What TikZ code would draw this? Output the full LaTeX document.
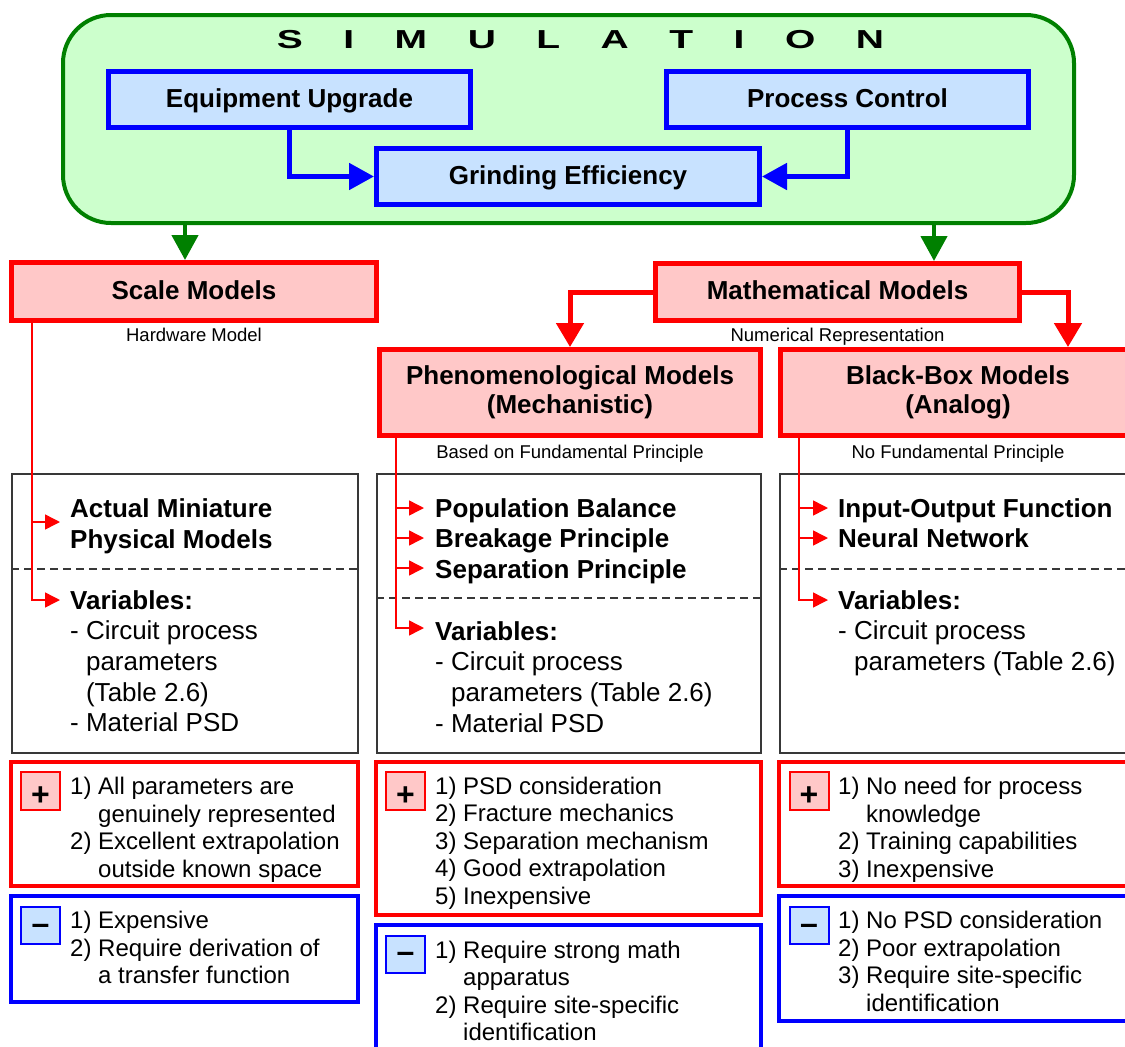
\documentclass[tikz,border=0pt]{standalone}
\usepackage{fontspec}
\usepackage{graphicx}
\setmainfont{Liberation Sans}
\usetikzlibrary{arrows.meta}

\definecolor{simfill}{HTML}{CCFFCC}
\definecolor{simdraw}{HTML}{008000}
\definecolor{bluefill}{HTML}{C8E2FF}
\definecolor{pinkfill}{HTML}{FFC8C8}
\definecolor{boxgray}{HTML}{383838}

\begin{document}
\begin{tikzpicture}[x=1pt,y=-1pt,
  bigfont/.style={font=\fontsize{26}{30.7}\selectfont\bfseries},
  simbox/.style={draw=simdraw, fill=simfill, line width=4pt, rounded corners=48pt, inner sep=0pt},
  titlebox/.style={line width=5pt, inner sep=0pt, align=center, font=\fontsize{26}{29.5}\selectfont\bfseries},
  onerow/.style={text height=18.6pt, text depth=3pt},
  bluebox/.style={titlebox, onerow, draw=blue, fill=bluefill},
  redbox/.style={titlebox, draw=red, fill=pinkfill},
  sublabel/.style={inner sep=0pt, text height=13.3pt, text depth=0pt, font=\fontsize{18.5}{22}\selectfont},
  listbox/.style={draw=boxgray, line width=1.5pt, inner sep=0pt},
  divider/.style={draw=boxgray, line width=1.3pt, dash pattern=on 8pt off 5pt},
  probox/.style={draw=red, line width=4.5pt, inner sep=0pt},
  conbox/.style={draw=blue, line width=4.5pt, inner sep=0pt},
  plusbox/.style={draw=red, fill=pinkfill, line width=2pt, inner sep=0pt, minimum width=39pt, minimum height=38pt,
                  font=\fontsize{32}{32}\selectfont\bfseries, text height=28.4pt, text depth=0pt},
  minusbox/.style={draw=blue, fill=bluefill, line width=2pt, inner sep=0pt, minimum width=39pt, minimum height=37pt,
                  font=\fontsize{32}{32}\selectfont\bfseries, text height=17pt, text depth=0pt},
  bigtext/.style={anchor=north west, inner sep=0pt, align=left, font=\fontsize{26}{30.7}\selectfont},
  smalltext/.style={anchor=north west, inner sep=0pt, align=left, font=\fontsize{24}{27.5}\selectfont},
  bluearrow/.style={draw=blue, line width=5pt, -{Triangle[length=25pt,width=26pt]}},
  greenarrow/.style={draw=simdraw, line width=4.5pt, -{Triangle[length=25pt,width=26pt]}},
  redarrow/.style={draw=red, line width=5pt, -{Triangle[length=24pt,width=27pt]}},
  thinarrow/.style={draw=red, line width=1.5pt, -{Triangle[length=15pt,width=15pt]}},
  thinline/.style={draw=red, line width=1.5pt}
]
\clip (0,0) rectangle (1125,1047);

% ---------- simulation block ----------
\node[simbox, minimum width=1011pt, minimum height=208pt] (sim) at (568.5,119) {};
\node[inner sep=0pt, text height=18.6pt, text depth=0pt, font=\fontsize{26}{30}\selectfont\bfseries] (simtitle) at (580.5,39)
  {\scalebox{1.5}[1]{S\hspace{27pt}I\hspace{27pt}M\hspace{27pt}U\hspace{27pt}L\hspace{27pt}A\hspace{27pt}T\hspace{27pt}I\hspace{27pt}O\hspace{27pt}N}};
\node[bluebox, minimum width=362pt, minimum height=56pt] (equip) at (289.5,99.5) {Equipment Upgrade};
\node[bluebox, minimum width=362pt, minimum height=56pt] (proc) at (847.5,99.5) {Process Control};
\node[bluebox, minimum width=383pt, minimum height=56pt] (grind) at (568,176.5) {Grinding Efficiency};
\draw[bluearrow] (equip.south) |- (grind.west);
\draw[bluearrow] (proc.south) |- (grind.east);

% ---------- model families ----------
\node[redbox, onerow, minimum width=365pt, minimum height=58pt] (scale) at (194,291.5) {Scale Models};
\node[redbox, onerow, minimum width=364pt, minimum height=57pt] (math) at (837.5,292) {Mathematical Models};
\node[redbox, minimum width=381pt, minimum height=86pt] (phen) at (570,392.5) {Phenomenological Models\\(Mechanistic)};
\node[redbox, minimum width=355pt, minimum height=86pt] (bbox) at (958,392.5) {Black-Box Models\\(Analog)};

\coordinate (g1) at (185,0);
\coordinate (g2) at (934,0);
\draw[greenarrow] (g1 |- sim.south) -- (g1 |- scale.north);
\draw[greenarrow] (g2 |- sim.south) -- (g2 |- math.north);
\coordinate (mx) at (1068,0);
\draw[redarrow] (math.west) -| (phen.north);
\draw[redarrow] (math.east) -| (mx |- bbox.north);

\node[sublabel] (hw) at (194,335) {Hardware Model};
\node[sublabel] (nr) at (837.5,334.5) {Numerical Representation};
\node[sublabel] (bf) at (570,451.5) {Based on Fundamental Principle};
\node[sublabel] (nf) at (958,451.5) {No Fundamental Principle};

% ---------- content boxes ----------
\node[listbox, minimum width=346pt, minimum height=279pt] (lbox) at (185,613.5) {};
\node[listbox, minimum width=384pt, minimum height=279pt] (mbox) at (569,613.5) {};
\node[listbox, minimum width=360pt, minimum height=279pt] (rbox) at (960,613.5) {};
\coordinate (dl) at (0,569);
\coordinate (dm) at (0,598);
\draw[divider] (lbox.west |- dl) -- (lbox.east |- dl);
\draw[divider] (mbox.west |- dm) -- (mbox.east |- dm);
\draw[divider] (rbox.west |- dl) -- (rbox.east |- dl);

\node[bigtext, font=\fontsize{26}{30.7}\selectfont\bfseries] (lmain) at (70,496) {\strut Actual Miniature\\Physical Models};
\node[bigtext] (lvar) at (70,587.5) {\strut\textbf{Variables:}\\- Circuit process\\\hphantom{- }parameters\\\hphantom{- }(Table 2.6)\\- Material PSD};
\node[bigtext, font=\fontsize{26}{30.7}\selectfont\bfseries] (mmain) at (435,495.5) {\strut Population Balance\\Breakage Principle\\Separation Principle};
\node[bigtext] (mvar) at (435,618.5) {\strut\textbf{Variables:}\\- Circuit process\\\hphantom{- }parameters (Table 2.6)\\- Material PSD};
\node[bigtext, font=\fontsize{26}{30.7}\selectfont\bfseries] (rmain) at (838,495.5) {\strut Input-Output Function\\Neural Network};
\node[bigtext] (rvar) at (838,587.5) {\strut\textbf{Variables:}\\- Circuit process\\\hphantom{- }parameters (Table 2.6)};

% branch arrows into the content boxes
\coordinate (sx) at (32,0);
\coordinate (sa1) at (60,522);
\coordinate (sa2) at (60,600);
\draw[thinarrow] (sx |- scale.south) |- (sa2);
\draw[thinarrow] (sx |- sa1) -- (sa1);

\coordinate (px) at (396,0);
\coordinate (pa1) at (424,508);
\coordinate (pa2) at (424,538);
\coordinate (pa3) at (424,568);
\coordinate (pa4) at (424,628);
\draw[thinarrow] (px |- phen.south) |- (pa4);
\draw[thinarrow] (px |- pa1) -- (pa1);
\draw[thinarrow] (px |- pa2) -- (pa2);
\draw[thinarrow] (px |- pa3) -- (pa3);

\coordinate (bx) at (799,0);
\coordinate (ba1) at (828,508);
\coordinate (ba2) at (828,538);
\coordinate (ba3) at (828,600);
\draw[thinarrow] (bx |- bbox.south) |- (ba3);
\draw[thinarrow] (bx |- ba1) -- (ba1);
\draw[thinarrow] (bx |- ba2) -- (ba2);

% ---------- advantages and drawbacks ----------
\node[probox, minimum width=347pt, minimum height=124pt] (lpro) at (184.5,824) {};
\node[conbox, minimum width=347pt, minimum height=106pt] (lcon) at (184.5,949) {};
\node[probox, minimum width=385pt, minimum height=153pt] (mpro) at (568.5,838.5) {};
\node[conbox, minimum width=385pt, minimum height=145pt] (mcon) at (568.5,997.5) {};
\node[probox, minimum width=361pt, minimum height=124pt] (rpro) at (959.5,824) {};
\node[conbox, minimum width=361pt, minimum height=125pt] (rcon) at (959.5,958.5) {};

\node[plusbox] (lplus) at (40.5,791) {+};
\node[minusbox] (lminus) at (40.5,925.5) {–};
\node[plusbox] (mplus) at (405.5,791) {+};
\node[minusbox] (mminus) at (405.5,954) {–};
\node[plusbox] (rplus) at (809,791) {+};
\node[minusbox] (rminus) at (809,925.5) {–};

\node[smalltext] (lprot) at (70,775.25) {\strut 1) All parameters are\\\hphantom{1) }genuinely represented\\2) Excellent extrapolation\\\hphantom{2) }outside known space};
\node[smalltext] (lcont) at (70,909.25) {\strut 1) Expensive\\2) Require derivation of\\\hphantom{2) }a transfer function};
\node[smalltext] (mprot) at (435,775) {\strut 1) PSD consideration\\2) Fracture mechanics\\3) Separation mechanism\\4) Good extrapolation\\5) Inexpensive};
\node[smalltext] (mcont) at (435,938.75) {\strut 1) Require strong math\\\hphantom{1) }apparatus\\2) Require site-specific\\\hphantom{2) }identification};
\node[smalltext] (rprot) at (838,775.25) {\strut 1) No need for process\\\hphantom{1) }knowledge\\2) Training capabilities\\3) Inexpensive};
\node[smalltext] (rcont) at (838,909.25) {\strut 1) No PSD consideration\\2) Poor extrapolation\\3) Require site-specific\\\hphantom{3) }identification};
\end{tikzpicture}
\end{document}
